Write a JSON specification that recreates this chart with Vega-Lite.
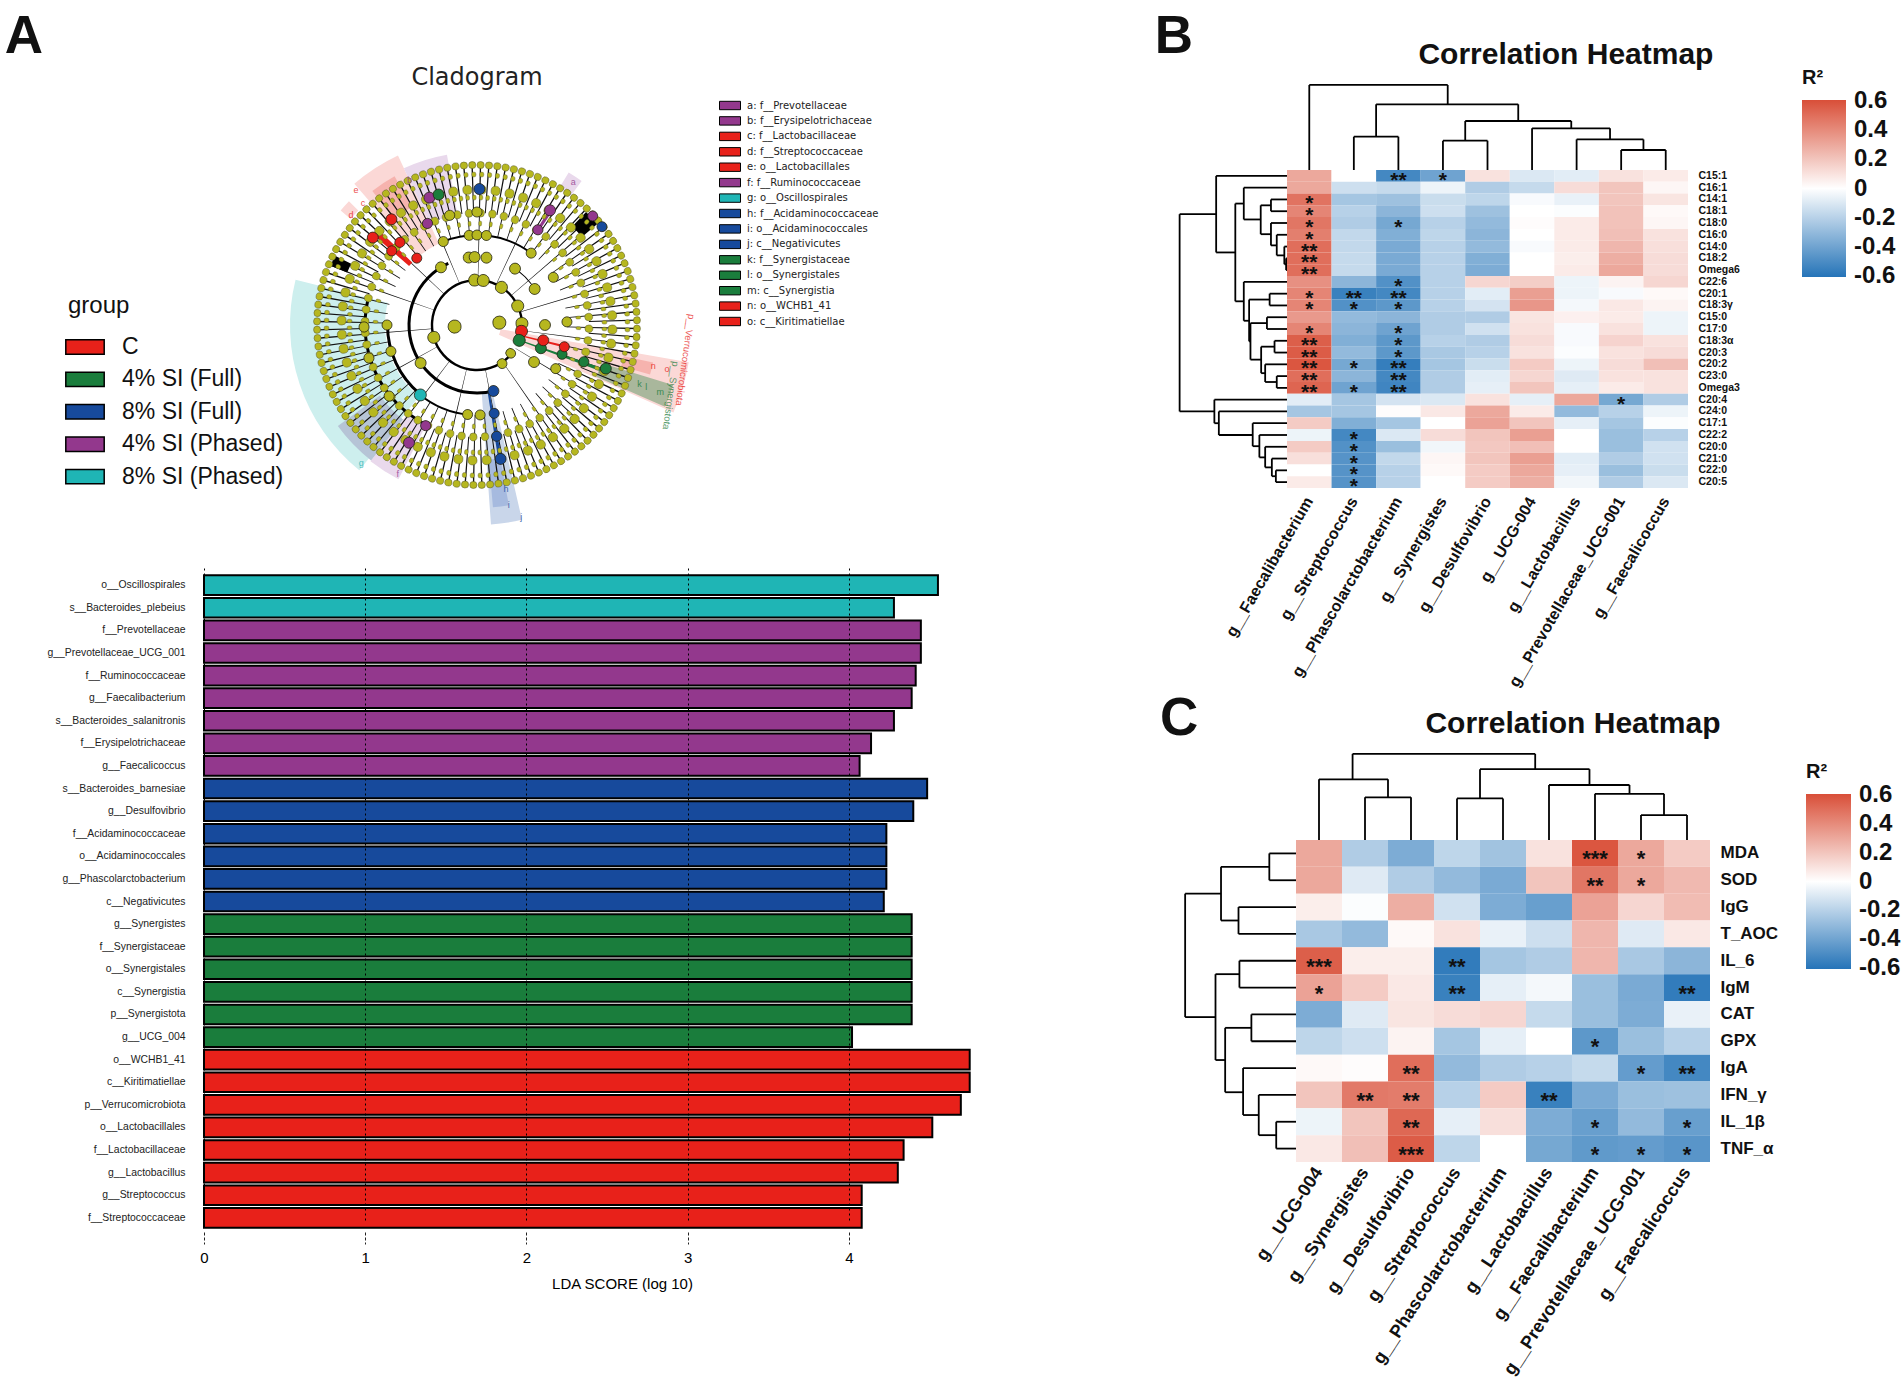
{"$schema":"https://vega.github.io/schema/vega-lite/v6.json","padding":0,"background":"white","autosize":{"type":"pad"},"config":{"view":{"stroke":null},"font":"Liberation Sans","axis":{"labelLimit":500}},"spacing":0,"bounds":"full","resolve":{"scale":{"color":"independent"},"legend":{"color":"independent"}},
"datasets":{
"spk":[{"t":0,"s":1,"e":1.5,"v":2.6,"w":3.8},{"t":3,"s":4,"e":4.5,"v":5.6},{"t":6,"s":7,"e":7.5,"v":8.6,"w":9.8},{"t":9,"s":10,"e":10.5,"v":11.6},{"t":12,"s":13,"e":13.5,"v":14.6,"w":15.8},{"t":15,"s":16,"e":16.5,"v":17.6},{"t":18,"s":19,"e":19.5,"v":20.6,"w":21.8},{"t":21,"s":22,"e":22.5,"v":23.6},{"t":24,"s":25,"e":25.5,"v":26.6,"w":27.8},{"t":27,"s":28,"e":28.5,"v":29.6},{"t":30,"s":31,"e":31.5,"v":32.6,"w":33.8},{"t":33,"s":34,"e":34.5,"v":35.6},{"t":36,"s":37,"e":37.5,"v":38.6,"w":39.8},{"t":39,"s":40,"e":40.5,"v":41.6},{"t":42,"s":43,"e":43.5,"v":44.6,"w":45.8},{"t":45,"s":46,"e":46.5,"v":47.6},{"t":48,"s":49,"e":49.5,"v":50.6,"w":51.8},{"t":51,"s":52,"e":52.5,"v":53.6},{"t":54,"s":55,"e":55.5,"v":56.6,"w":57.8},{"t":57,"s":58,"e":58.5,"v":59.6},{"t":60,"s":61,"e":61.5,"v":62.6,"w":63.8},{"t":63,"s":64,"e":64.5,"v":65.6},{"t":66,"s":67,"e":67.5,"v":68.6,"w":69.8},{"t":69,"s":70,"e":70.5,"v":71.6},{"t":72,"s":73,"e":73.5,"v":74.6,"w":75.8},{"t":75,"s":76,"e":76.5,"v":77.6},{"t":78,"s":79,"e":79.5,"v":80.6,"w":81.8},{"t":81,"s":82,"e":82.5,"v":83.6},{"t":84,"s":85,"e":85.5,"v":86.6,"w":87.8},{"t":87,"s":88,"e":88.5,"v":89.6},{"t":90,"s":91,"e":91.5,"v":92.6,"w":93.8},{"t":93,"s":94,"e":94.5,"v":95.6},{"t":96,"s":97,"e":97.5,"v":98.6,"w":99.8},{"t":99,"s":100,"e":100.5,"v":101.6},{"t":102,"s":103,"e":103.5,"v":104.6,"w":105.8},{"t":105,"s":106,"e":106.5,"v":107.6},{"t":108,"s":109,"e":109.5,"v":110.6,"w":111.8},{"t":111,"s":112,"e":112.5,"v":113.6},{"t":114,"s":115,"e":115.5,"v":116.6,"w":117.8},{"t":117,"s":118,"e":118.5,"v":119.6},{"t":120,"s":121,"e":121.5,"v":122.6,"w":123.8},{"t":123,"s":124,"e":124.5,"v":125.6},{"t":126,"s":127,"e":127.5,"v":128.6,"w":129.8},{"t":129,"s":130,"e":130.5,"v":131.6},{"t":132,"s":133,"e":133.5,"v":134.6,"w":135.8},{"t":135,"s":136,"e":136.5,"v":137.6},{"t":138,"s":139,"e":139.5,"v":140.6,"w":141.8},{"t":141,"s":142,"e":142.5,"v":143.6},{"t":144,"s":145,"e":145.5,"v":146.6,"w":147.8},{"t":147,"s":148,"e":148.5,"v":149.6},{"t":150,"s":151,"e":151.5,"v":152.6,"w":153.8},{"t":153,"s":154,"e":154.5,"v":155.6},{"t":156,"s":157,"e":157.5,"v":158.6,"w":159.8},{"t":159,"s":160,"e":160.5,"v":161.6},{"t":162,"s":163,"e":163.5,"v":164.6,"w":165.8},{"t":165,"s":166,"e":166.5,"v":167.6},{"t":168,"s":169,"e":169.5,"v":170.6,"w":171.8},{"t":171,"s":172,"e":172.5,"v":173.6},{"t":174,"s":175,"e":175.5,"v":176.6,"w":177.8},{"t":177,"s":178,"e":178.5,"v":179.6},{"t":180,"s":181,"e":181.5,"v":182.6,"w":183.8},{"t":183,"s":184,"e":184.5,"v":185.6},{"t":186,"s":187,"e":187.5,"v":188.6,"w":189.8},{"t":189,"s":190,"e":190.5,"v":191.6},{"t":192,"s":193,"e":193.5,"v":194.6,"w":195.8},{"t":195,"s":196,"e":196.5,"v":197.6},{"t":198,"s":199,"e":199.5,"v":200.6,"w":201.8},{"t":201,"s":202,"e":202.5,"v":203.6},{"t":204,"s":205,"e":205.5,"v":206.6,"w":207.8},{"t":207,"s":208,"e":208.5,"v":209.6},{"t":210,"s":211,"e":211.5,"v":212.6,"w":213.8},{"t":213,"s":214,"e":214.5,"v":215.6},{"t":216,"s":217,"e":217.5,"v":218.6,"w":219.8},{"t":219,"s":220,"e":220.5,"v":221.6},{"t":222,"s":223,"e":223.5,"v":224.6,"w":225.8},{"t":225,"s":226,"e":226.5,"v":227.6},{"t":228,"s":229,"e":229.5,"v":230.6,"w":231.8},{"t":231,"s":232,"e":232.5,"v":233.6},{"t":234,"s":235,"e":235.5,"v":236.6,"w":237.8},{"t":237,"s":238,"e":238.5,"v":239.6},{"t":240,"s":241,"e":241.5,"v":242.6,"w":243.8},{"t":243,"s":244,"e":244.5,"v":245.6},{"t":246,"s":247,"e":247.5,"v":248.6,"w":249.8},{"t":249,"s":250,"e":250.5,"v":251.6},{"t":252,"s":253,"e":253.5,"v":254.6,"w":255.8},{"t":255,"s":256,"e":256.5,"v":257.6},{"t":258,"s":259,"e":259.5,"v":260.6,"w":261.8},{"t":261,"s":262,"e":262.5,"v":263.6},{"t":264,"s":265,"e":265.5,"v":266.6,"w":267.8},{"t":267,"s":268,"e":268.5,"v":269.6},{"t":270,"s":271,"e":271.5,"v":272.6,"w":273.8},{"t":273,"s":274,"e":274.5,"v":275.6},{"t":276,"s":277,"e":277.5,"v":278.6,"w":279.8},{"t":279,"s":280,"e":280.5,"v":281.6},{"t":282,"s":283,"e":283.5,"v":284.6,"w":285.8},{"t":285,"s":286,"e":286.5,"v":287.6},{"t":288,"s":289,"e":289.5,"v":290.6,"w":291.8},{"t":291,"s":292,"e":292.5,"v":293.6},{"t":294,"s":295,"e":295.5,"v":296.6,"w":297.8},{"t":297,"s":298,"e":298.5,"v":299.6},{"t":300,"s":301,"e":301.5,"v":302.6,"w":303.8},{"t":303,"s":304,"e":304.5,"v":305.6},{"t":306,"s":307,"e":307.5,"v":308.6,"w":309.8},{"t":309,"s":310,"e":310.5,"v":311.6},{"t":312,"s":313,"e":313.5,"v":314.6,"w":315.8},{"t":315,"s":316,"e":316.5,"v":317.6},{"t":318,"s":319,"e":319.5,"v":320.6,"w":321.8},{"t":321,"s":322,"e":322.5,"v":323.6},{"t":324,"s":325,"e":325.5,"v":326.6,"w":327.8},{"t":327,"s":328,"e":328.5,"v":329.6},{"t":330,"s":331,"e":331.5,"v":332.6,"w":333.8},{"t":333,"s":334,"e":334.5,"v":335.6},{"t":336,"s":337,"e":337.5,"v":338.6,"w":339.8},{"t":339,"s":340,"e":340.5,"v":341.6},{"t":342,"s":343,"e":343.5,"v":344.6,"w":345.8},{"t":345,"s":346,"e":346.5,"v":347.6},{"t":348,"s":349,"e":349.5,"v":350.6,"w":351.8},{"t":351,"s":352,"e":352.5,"v":353.6},{"t":354,"s":355,"e":355.5,"v":356.6,"w":357.8},{"t":357,"s":358,"e":358.5,"v":359.6}],
"sec":[{"t":219,"u":284,"r":92,"q":187,"k":"T1"},{"t":207,"u":218,"r":112,"q":173,"k":"P1"},{"t":218,"u":234,"r":120,"q":172,"k":"S1"},{"t":167,"u":176,"r":68,"q":200,"k":"U1"},{"t":170,"u":175,"r":135,"q":183,"k":"U2"},{"t":100,"u":114,"r":24,"q":215,"k":"R1"},{"t":107,"u":113.5,"r":130,"q":205,"k":"O1"},{"t":102,"u":106,"r":150,"q":180,"k":"R2"},{"t":31,"u":36,"r":160,"q":178,"k":"P1"},{"t":319,"u":335,"r":90,"q":187,"k":"R1"},{"t":322,"u":331,"r":135,"q":170,"k":"R2"},{"t":335,"u":350,"r":112,"q":173,"k":"P1"},{"t":310,"u":314,"r":165,"q":178,"k":"R1"}],
"rings":[{"t":130,"u":445,"r":43.8,"q":46.2,"k":"b"},{"t":165,"u":335,"r":66.5,"q":69.5,"k":"b"},{"t":30,"u":60,"r":67.5,"q":68.5,"k":"b"},{"t":220,"u":270,"r":88,"q":91,"k":"b"},{"t":185,"u":220,"r":89,"q":91,"k":"b"},{"t":338,"u":397,"r":89,"q":91,"k":"b"},{"t":207,"u":283,"r":110.5,"q":113.5,"k":"b"},{"t":44,"u":50,"r":137,"q":157,"k":"b"},{"t":292,"u":296,"r":140,"q":158,"k":"b"},{"t":103,"u":104.5,"r":45,"q":91,"k":"r"},{"t":109,"u":110.5,"r":45,"q":137,"k":"g"},{"t":169.5,"u":171,"r":68,"q":136,"k":"u"},{"t":311,"u":314,"r":90,"q":136,"k":"r"},{"t":32,"u":33.5,"r":112,"q":136,"k":"p"}],
"nodes":[{"t":249,"u":283,"r":16,"q":29,"k":"o"},{"t":67,"u":101,"r":16,"q":29,"k":"o"},{"t":246.4,"u":261.6,"r":39,"q":51,"k":"o"},{"t":349.4,"u":364.6,"r":39,"q":51,"k":"o"},{"t":0.4,"u":15.6,"r":39,"q":51,"k":"o"},{"t":25.4,"u":40.6,"r":39,"q":51,"k":"o"},{"t":57.4,"u":72.6,"r":39,"q":51,"k":"o"},{"t":80.4,"u":95.6,"r":39,"q":51,"k":"o"},{"t":124,"u":136,"r":39,"q":49,"k":"o"},{"t":141,"u":153,"r":41,"q":51,"k":"o"},{"t":231.4,"u":240.6,"r":62.5,"q":73.5,"k":"o"},{"t":323.4,"u":332.6,"r":62.5,"q":73.5,"k":"o"},{"t":29.4,"u":38.6,"r":62.5,"q":73.5,"k":"o"},{"t":53.4,"u":62.6,"r":62.5,"q":73.5,"k":"o"},{"t":85.4,"u":94.6,"r":62.5,"q":73.5,"k":"o"},{"t":118.4,"u":127.6,"r":62.5,"q":73.5,"k":"o"},{"t":348.4,"u":357.6,"r":62.5,"q":73.5,"k":"o"},{"t":353.4,"u":362.6,"r":62.5,"q":73.5,"k":"o"},{"t":3.4,"u":12.6,"r":62.5,"q":73.5,"k":"o"},{"t":266.8,"u":273.2,"r":85,"q":95,"k":"o"},{"t":249.8,"u":256.2,"r":85,"q":95,"k":"o"},{"t":334.8,"u":341.2,"r":85,"q":95,"k":"o"},{"t":33.8,"u":40.2,"r":85,"q":95,"k":"o"},{"t":351.8,"u":358.2,"r":85,"q":95,"k":"o"},{"t":356.8,"u":363.2,"r":85,"q":95,"k":"o"},{"t":2.8,"u":9.2,"r":85,"q":95,"k":"o"},{"t":54.8,"u":61.2,"r":85,"q":95,"k":"o"},{"t":84.8,"u":91.2,"r":85,"q":95,"k":"o"},{"t":115.8,"u":122.2,"r":85,"q":95,"k":"o"},{"t":182.8,"u":189.2,"r":85,"q":95,"k":"o"},{"t":174.8,"u":181.2,"r":85,"q":95,"k":"o"},{"t":266.4,"u":271.6,"r":108,"q":118,"k":"o"},{"t":250.4,"u":255.6,"r":108,"q":118,"k":"o"},{"t":228.4,"u":233.6,"r":108,"q":118,"k":"o"},{"t":343.4,"u":348.6,"r":108,"q":118,"k":"o"},{"t":357.4,"u":362.6,"r":108,"q":118,"k":"o"},{"t":90.4,"u":105.6,"r":39,"q":51,"k":"r"},{"t":102.4,"u":117.6,"r":39,"q":51,"k":"g"},{"t":161.4,"u":170.6,"r":62.5,"q":73.5,"k":"u"},{"t":105.4,"u":114.6,"r":62.5,"q":73.5,"k":"g"},{"t":98.4,"u":107.6,"r":62.5,"q":73.5,"k":"r"},{"t":215.2,"u":222.8,"r":84,"q":96,"k":"t"},{"t":314.8,"u":321.2,"r":85,"q":95,"k":"r"},{"t":105.8,"u":112.2,"r":85,"q":95,"k":"g"},{"t":100.8,"u":107.2,"r":85,"q":95,"k":"r"},{"t":165.8,"u":172.2,"r":85,"q":95,"k":"u"},{"t":204.4,"u":209.6,"r":108,"q":118,"k":"p"},{"t":314.4,"u":319.6,"r":108,"q":118,"k":"r"},{"t":308.4,"u":313.6,"r":108,"q":118,"k":"r"},{"t":331.4,"u":336.6,"r":108,"q":118,"k":"p"},{"t":167.4,"u":172.6,"r":108,"q":118,"k":"u"},{"t":30,"u":35.2,"r":108,"q":118,"k":"p"},{"t":106.4,"u":111.6,"r":108,"q":118,"k":"g"},{"t":307.7,"u":312.3,"r":130.5,"q":141.5,"k":"r"},{"t":318.7,"u":323.3,"r":130.5,"q":141.5,"k":"r"},{"t":337.2,"u":341.8,"r":130.5,"q":141.5,"k":"p"},{"t":341.3,"u":345.9,"r":130.5,"q":141.5,"k":"g"},{"t":358.7,"u":363.3,"r":130.5,"q":141.5,"k":"u"},{"t":30.2,"u":34.8,"r":130.5,"q":141.5,"k":"p"},{"t":106.4,"u":111,"r":130.5,"q":141.5,"k":"g"},{"t":167.7,"u":172.3,"r":130.5,"q":141.5,"k":"u"},{"t":207.7,"u":212.3,"r":130.5,"q":141.5,"k":"p"},{"t":44.9,"u":48.5,"r":154,"q":164,"k":"p"},{"t":50,"u":53.6,"r":154,"q":164,"k":"u"}],
"letters":[{"t":34,"r":172,"label":"a","k":"p"},{"t":335,"r":160,"label":"b","k":"p"},{"t":317,"r":167,"label":"c","k":"r"},{"t":311,"r":167,"label":"d","k":"r"},{"t":318,"r":181,"label":"e","k":"r"},{"t":208,"r":169,"label":"f","k":"p"},{"t":220,"r":180,"label":"g","k":"t"},{"t":170,"r":167,"label":"h","k":"u"},{"t":170,"r":183,"label":"i","k":"u"},{"t":167,"r":197,"label":"j","k":"u"},{"t":110,"r":173,"label":"k","k":"g"},{"t":110,"r":180,"label":"l","k":"g"},{"t":110,"r":195,"label":"m","k":"g"},{"t":103,"r":181,"label":"n","k":"r"},{"t":103,"r":195,"label":"o","k":"r"}],
"phyla":[{"t":99.5,"r":211,"label":"p__Verrucomicrobiota","k":"r"},{"t":110,"r":206,"label":"p__Synergistota","k":"g"}],
"cladlegend":[{"y":219.5,"label":"a: f__Prevotellaceae","k":"p"},{"y":204.1,"label":"b: f__Erysipelotrichaceae","k":"p"},{"y":188.6,"label":"c: f__Lactobacillaceae","k":"r"},{"y":173.2,"label":"d: f__Streptococcaceae","k":"r"},{"y":157.8,"label":"e: o__Lactobacillales","k":"r"},{"y":142.4,"label":"f: f__Ruminococcaceae","k":"p"},{"y":126.9,"label":"g: o__Oscillospirales","k":"t"},{"y":111.5,"label":"h: f__Acidaminococcaceae","k":"u"},{"y":96.1,"label":"i: o__Acidaminococcales","k":"u"},{"y":80.6,"label":"j: c__Negativicutes","k":"u"},{"y":65.2,"label":"k: f__Synergistaceae","k":"g"},{"y":49.8,"label":"l: o__Synergistales","k":"g"},{"y":34.3,"label":"m: c__Synergistia","k":"g"},{"y":18.9,"label":"n: o__WCHB1_41","k":"r"},{"y":3.5,"label":"o: c__Kiritimatiellae","k":"r"}],
"bars":[{"n":"o__Oscillospirales","g":"8% SI (Phased)","v":4.553},{"n":"s__Bacteroides_plebeius","g":"8% SI (Phased)","v":4.28},{"n":"f__Prevotellaceae","g":"4% SI (Phased)","v":4.447},{"n":"g__Prevotellaceae_UCG_001","g":"4% SI (Phased)","v":4.447},{"n":"f__Ruminococcaceae","g":"4% SI (Phased)","v":4.415},{"n":"g__Faecalibacterium","g":"4% SI (Phased)","v":4.39},{"n":"s__Bacteroides_salanitronis","g":"4% SI (Phased)","v":4.28},{"n":"f__Erysipelotrichaceae","g":"4% SI (Phased)","v":4.138},{"n":"g__Faecalicoccus","g":"4% SI (Phased)","v":4.067},{"n":"s__Bacteroides_barnesiae","g":"8% SI (Full)","v":4.486},{"n":"g__Desulfovibrio","g":"8% SI (Full)","v":4.4},{"n":"f__Acidaminococcaceae","g":"8% SI (Full)","v":4.233},{"n":"o__Acidaminococcales","g":"8% SI (Full)","v":4.233},{"n":"g__Phascolarctobacterium","g":"8% SI (Full)","v":4.233},{"n":"c__Negativicutes","g":"8% SI (Full)","v":4.217},{"n":"g__Synergistes","g":"4% SI (Full)","v":4.39},{"n":"f__Synergistaceae","g":"4% SI (Full)","v":4.39},{"n":"o__Synergistales","g":"4% SI (Full)","v":4.39},{"n":"c__Synergistia","g":"4% SI (Full)","v":4.39},{"n":"p__Synergistota","g":"4% SI (Full)","v":4.39},{"n":"g__UCG_004","g":"4% SI (Full)","v":4.02},{"n":"o__WCHB1_41","g":"C","v":4.75},{"n":"c__Kiritimatiellae","g":"C","v":4.75},{"n":"p__Verrucomicrobiota","g":"C","v":4.695},{"n":"o__Lactobacillales","g":"C","v":4.518},{"n":"f__Lactobacillaceae","g":"C","v":4.34},{"n":"g__Lactobacillus","g":"C","v":4.304},{"n":"g__Streptococcus","g":"C","v":4.08},{"n":"f__Streptococcaceae","g":"C","v":4.08}],
"bL":[{"h":-0.02,"a":7.5,"b":8.5,"c":0,"d":0},{"h":-0.06,"a":6.5,"b":8,"c":0,"d":-0.02},{"h":-0.23,"a":5.5,"b":7.25,"c":0,"d":-0.06},{"h":-0.36,"a":4.5,"b":6.4,"c":0,"d":-0.23},{"h":-0.36,"a":2.5,"b":3.5,"c":0,"d":0},{"h":-0.59,"a":3,"b":5.45,"c":-0.36,"d":-0.36},{"h":-0.97,"a":1.5,"b":4.2,"c":0,"d":-0.59},{"h":-0.23,"a":17.5,"b":18.5,"c":0,"d":0},{"h":-0.49,"a":16.5,"b":18,"c":0,"d":-0.23},{"h":-0.28,"a":14.5,"b":15.5,"c":0,"d":0},{"h":-0.58,"a":15,"b":17.25,"c":-0.28,"d":-0.49},{"h":-0.45,"a":12.5,"b":13.5,"c":0,"d":0},{"h":-0.82,"a":13,"b":16.1,"c":-0.45,"d":-0.58},{"h":-0.39,"a":10.5,"b":11.5,"c":0,"d":0},{"h":-0.85,"a":11,"b":14.55,"c":-0.39,"d":-0.82},{"h":-0.97,"a":9.5,"b":12.8,"c":0,"d":-0.85},{"h":-1.16,"a":2.85,"b":11.15,"c":-0.97,"d":-0.97},{"h":-1.59,"a":0.5,"b":7,"c":0,"d":-1.16},{"h":-0.25,"a":25.5,"b":26.5,"c":0,"d":0},{"h":-0.34,"a":24.5,"b":26,"c":0,"d":-0.25},{"h":-0.49,"a":23.5,"b":25.25,"c":0,"d":-0.34},{"h":-0.62,"a":22.5,"b":24.4,"c":0,"d":-0.49},{"h":-0.77,"a":21.5,"b":23.45,"c":0,"d":-0.62},{"h":-1.53,"a":20.5,"b":22.5,"c":0,"d":-0.77},{"h":-1.63,"a":19.5,"b":21.5,"c":0,"d":-1.53},{"h":-2.41,"a":3.75,"b":20.5,"c":-1.59,"d":-1.63}],
"bT":[{"h":-7.22,"a":0.5,"b":3.607,"c":0,"d":-5.58},{"h":-5.58,"a":2,"b":5.19,"c":-2.83,"d":-4.16},{"h":-2.83,"a":1.5,"b":2.5,"c":0,"d":0},{"h":-4.16,"a":4,"b":6.38,"c":-2.49,"d":-3.54},{"h":-2.49,"a":3.5,"b":4.5,"c":0,"d":0},{"h":-3.54,"a":5.5,"b":7.25,"c":0,"d":-2.6},{"h":-2.6,"a":6.5,"b":8,"c":0,"d":-1.7},{"h":-1.7,"a":7.5,"b":8.5,"c":0,"d":0}],
"cL":[{"h":-0.43,"a":10.5,"b":11.5,"c":0,"d":0},{"h":-0.81,"a":9.5,"b":11,"c":0,"d":-0.43},{"h":-1.15,"a":8.5,"b":10.25,"c":0,"d":-0.81},{"h":-0.97,"a":6.5,"b":7.5,"c":0,"d":0},{"h":-1.54,"a":7,"b":9.4,"c":-0.97,"d":-1.15},{"h":-1.23,"a":4.5,"b":5.5,"c":0,"d":0},{"h":-1.75,"a":5,"b":8.2,"c":-1.23,"d":-1.54},{"h":-0.58,"a":0.5,"b":1.5,"c":0,"d":0},{"h":-1.25,"a":2.5,"b":3.5,"c":0,"d":0},{"h":-1.63,"a":1,"b":3,"c":-0.58,"d":-1.25},{"h":-2.41,"a":2,"b":6.6,"c":-1.63,"d":-1.75}],
"cT":[{"h":-3.21,"a":1.23,"b":5.2,"c":-2.26,"d":-2.64},{"h":-2.26,"a":0.5,"b":2,"c":0,"d":-1.59},{"h":-1.59,"a":1.5,"b":2.5,"c":0,"d":0},{"h":-2.64,"a":4,"b":6.38,"c":-1.55,"d":-2.05},{"h":-1.55,"a":3.5,"b":4.5,"c":0,"d":0},{"h":-2.05,"a":5.5,"b":7.25,"c":0,"d":-1.72},{"h":-1.72,"a":6.5,"b":8,"c":0,"d":-0.93},{"h":-0.93,"a":7.5,"b":8.5,"c":0,"d":0}],
"heatB":[
{"x":"g__Faecalibacterium","y":"C15:1","v":0.3},{"x":"g__Streptococcus","y":"C15:1","v":0},{"x":"g__Phascolarctobacterium","y":"C15:1","v":-0.52,"s":"**"},{"x":"g__Synergistes","y":"C15:1","v":-0.4,"s":"*"},{"x":"g__Desulfovibrio","y":"C15:1","v":0.1},{"x":"g__UCG-004","y":"C15:1","v":-0.1},{"x":"g__Lactobacillus","y":"C15:1","v":-0.08},{"x":"g__Prevotellaceae_UCG-001","y":"C15:1","v":0.1},{"x":"g__Faecalicoccus","y":"C15:1","v":0.07},
{"x":"g__Faecalibacterium","y":"C16:1","v":0.3},{"x":"g__Streptococcus","y":"C16:1","v":-0.14},{"x":"g__Phascolarctobacterium","y":"C16:1","v":-0.16},{"x":"g__Synergistes","y":"C16:1","v":-0.05},{"x":"g__Desulfovibrio","y":"C16:1","v":-0.22},{"x":"g__UCG-004","y":"C16:1","v":-0.16},{"x":"g__Lactobacillus","y":"C16:1","v":0.12},{"x":"g__Prevotellaceae_UCG-001","y":"C16:1","v":0.2},{"x":"g__Faecalicoccus","y":"C16:1","v":0.03},
{"x":"g__Faecalibacterium","y":"C14:1","v":0.48,"s":"*"},{"x":"g__Streptococcus","y":"C14:1","v":-0.25},{"x":"g__Phascolarctobacterium","y":"C14:1","v":-0.27},{"x":"g__Synergistes","y":"C14:1","v":-0.15},{"x":"g__Desulfovibrio","y":"C14:1","v":-0.18},{"x":"g__UCG-004","y":"C14:1","v":-0.02},{"x":"g__Lactobacillus","y":"C14:1","v":-0.06},{"x":"g__Prevotellaceae_UCG-001","y":"C14:1","v":0.2},{"x":"g__Faecalicoccus","y":"C14:1","v":0.09},
{"x":"g__Faecalibacterium","y":"C18:1","v":0.42,"s":"*"},{"x":"g__Streptococcus","y":"C18:1","v":-0.2},{"x":"g__Phascolarctobacterium","y":"C18:1","v":-0.32},{"x":"g__Synergistes","y":"C18:1","v":-0.14},{"x":"g__Desulfovibrio","y":"C18:1","v":-0.27},{"x":"g__UCG-004","y":"C18:1","v":0},{"x":"g__Lactobacillus","y":"C18:1","v":-0.01},{"x":"g__Prevotellaceae_UCG-001","y":"C18:1","v":0.21},{"x":"g__Faecalicoccus","y":"C18:1","v":0.02},
{"x":"g__Faecalibacterium","y":"C18:0","v":0.47,"s":"*"},{"x":"g__Streptococcus","y":"C18:0","v":-0.22},{"x":"g__Phascolarctobacterium","y":"C18:0","v":-0.38,"s":"*"},{"x":"g__Synergistes","y":"C18:0","v":-0.2},{"x":"g__Desulfovibrio","y":"C18:0","v":-0.3},{"x":"g__UCG-004","y":"C18:0","v":0.01},{"x":"g__Lactobacillus","y":"C18:0","v":0.07},{"x":"g__Prevotellaceae_UCG-001","y":"C18:0","v":0.21},{"x":"g__Faecalicoccus","y":"C18:0","v":0.03},
{"x":"g__Faecalibacterium","y":"C16:0","v":0.44,"s":"*"},{"x":"g__Streptococcus","y":"C16:0","v":-0.17},{"x":"g__Phascolarctobacterium","y":"C16:0","v":-0.35},{"x":"g__Synergistes","y":"C16:0","v":-0.18},{"x":"g__Desulfovibrio","y":"C16:0","v":-0.32},{"x":"g__UCG-004","y":"C16:0","v":0},{"x":"g__Lactobacillus","y":"C16:0","v":0.07},{"x":"g__Prevotellaceae_UCG-001","y":"C16:0","v":0.22},{"x":"g__Faecalicoccus","y":"C16:0","v":0.1},
{"x":"g__Faecalibacterium","y":"C14:0","v":0.5,"s":"**"},{"x":"g__Streptococcus","y":"C14:0","v":-0.17},{"x":"g__Phascolarctobacterium","y":"C14:0","v":-0.37},{"x":"g__Synergistes","y":"C14:0","v":-0.2},{"x":"g__Desulfovibrio","y":"C14:0","v":-0.3},{"x":"g__UCG-004","y":"C14:0","v":-0.02},{"x":"g__Lactobacillus","y":"C14:0","v":0.07},{"x":"g__Prevotellaceae_UCG-001","y":"C14:0","v":0.25},{"x":"g__Faecalicoccus","y":"C14:0","v":0.11},
{"x":"g__Faecalibacterium","y":"C18:2","v":0.5,"s":"**"},{"x":"g__Streptococcus","y":"C18:2","v":-0.16},{"x":"g__Phascolarctobacterium","y":"C18:2","v":-0.37},{"x":"g__Synergistes","y":"C18:2","v":-0.2},{"x":"g__Desulfovibrio","y":"C18:2","v":-0.35},{"x":"g__UCG-004","y":"C18:2","v":0},{"x":"g__Lactobacillus","y":"C18:2","v":0.06},{"x":"g__Prevotellaceae_UCG-001","y":"C18:2","v":0.28},{"x":"g__Faecalicoccus","y":"C18:2","v":0.12},
{"x":"g__Faecalibacterium","y":"Omega6","v":0.5,"s":"**"},{"x":"g__Streptococcus","y":"Omega6","v":-0.16},{"x":"g__Phascolarctobacterium","y":"Omega6","v":-0.37},{"x":"g__Synergistes","y":"Omega6","v":-0.2},{"x":"g__Desulfovibrio","y":"Omega6","v":-0.36},{"x":"g__UCG-004","y":"Omega6","v":0},{"x":"g__Lactobacillus","y":"Omega6","v":0.07},{"x":"g__Prevotellaceae_UCG-001","y":"Omega6","v":0.3},{"x":"g__Faecalicoccus","y":"Omega6","v":0.12},
{"x":"g__Faecalibacterium","y":"C22:6","v":0.38},{"x":"g__Streptococcus","y":"C22:6","v":-0.32},{"x":"g__Phascolarctobacterium","y":"C22:6","v":-0.48,"s":"*"},{"x":"g__Synergistes","y":"C22:6","v":-0.2},{"x":"g__Desulfovibrio","y":"C22:6","v":0.14},{"x":"g__UCG-004","y":"C22:6","v":0.17},{"x":"g__Lactobacillus","y":"C22:6","v":-0.05},{"x":"g__Prevotellaceae_UCG-001","y":"C22:6","v":0.04},{"x":"g__Faecalicoccus","y":"C22:6","v":0.14},
{"x":"g__Faecalibacterium","y":"C20:1","v":0.42,"s":"*"},{"x":"g__Streptococcus","y":"C20:1","v":-0.55,"s":"**"},{"x":"g__Phascolarctobacterium","y":"C20:1","v":-0.52,"s":"**"},{"x":"g__Synergistes","y":"C20:1","v":-0.2},{"x":"g__Desulfovibrio","y":"C20:1","v":-0.08},{"x":"g__UCG-004","y":"C20:1","v":0.33},{"x":"g__Lactobacillus","y":"C20:1","v":-0.05},{"x":"g__Prevotellaceae_UCG-001","y":"C20:1","v":-0.02},{"x":"g__Faecalicoccus","y":"C20:1","v":0.02},
{"x":"g__Faecalibacterium","y":"C18:3γ","v":0.42,"s":"*"},{"x":"g__Streptococcus","y":"C18:3γ","v":-0.48,"s":"*"},{"x":"g__Phascolarctobacterium","y":"C18:3γ","v":-0.45,"s":"*"},{"x":"g__Synergistes","y":"C18:3γ","v":-0.2},{"x":"g__Desulfovibrio","y":"C18:3γ","v":-0.12},{"x":"g__UCG-004","y":"C18:3γ","v":0.36},{"x":"g__Lactobacillus","y":"C18:3γ","v":-0.03},{"x":"g__Prevotellaceae_UCG-001","y":"C18:3γ","v":0.08},{"x":"g__Faecalicoccus","y":"C18:3γ","v":0.04},
{"x":"g__Faecalibacterium","y":"C15:0","v":0.35},{"x":"g__Streptococcus","y":"C15:0","v":-0.3},{"x":"g__Phascolarctobacterium","y":"C15:0","v":-0.32},{"x":"g__Synergistes","y":"C15:0","v":-0.22},{"x":"g__Desulfovibrio","y":"C15:0","v":-0.22},{"x":"g__UCG-004","y":"C15:0","v":0.09},{"x":"g__Lactobacillus","y":"C15:0","v":0.05},{"x":"g__Prevotellaceae_UCG-001","y":"C15:0","v":0.07},{"x":"g__Faecalicoccus","y":"C15:0","v":-0.05},
{"x":"g__Faecalibacterium","y":"C17:0","v":0.42,"s":"*"},{"x":"g__Streptococcus","y":"C17:0","v":-0.32},{"x":"g__Phascolarctobacterium","y":"C17:0","v":-0.4,"s":"*"},{"x":"g__Synergistes","y":"C17:0","v":-0.22},{"x":"g__Desulfovibrio","y":"C17:0","v":-0.13},{"x":"g__UCG-004","y":"C17:0","v":0.1},{"x":"g__Lactobacillus","y":"C17:0","v":-0.02},{"x":"g__Prevotellaceae_UCG-001","y":"C17:0","v":0.1},{"x":"g__Faecalicoccus","y":"C17:0","v":-0.05},
{"x":"g__Faecalibacterium","y":"C18:3α","v":0.55,"s":"**"},{"x":"g__Streptococcus","y":"C18:3α","v":-0.35},{"x":"g__Phascolarctobacterium","y":"C18:3α","v":-0.45,"s":"*"},{"x":"g__Synergistes","y":"C18:3α","v":-0.2},{"x":"g__Desulfovibrio","y":"C18:3α","v":-0.22},{"x":"g__UCG-004","y":"C18:3α","v":0.12},{"x":"g__Lactobacillus","y":"C18:3α","v":-0.02},{"x":"g__Prevotellaceae_UCG-001","y":"C18:3α","v":0.15},{"x":"g__Faecalicoccus","y":"C18:3α","v":0.1},
{"x":"g__Faecalibacterium","y":"C20:3","v":0.56,"s":"**"},{"x":"g__Streptococcus","y":"C20:3","v":-0.3},{"x":"g__Phascolarctobacterium","y":"C20:3","v":-0.45,"s":"*"},{"x":"g__Synergistes","y":"C20:3","v":-0.24},{"x":"g__Desulfovibrio","y":"C20:3","v":-0.2},{"x":"g__UCG-004","y":"C20:3","v":0.1},{"x":"g__Lactobacillus","y":"C20:3","v":-0.01},{"x":"g__Prevotellaceae_UCG-001","y":"C20:3","v":0.1},{"x":"g__Faecalicoccus","y":"C20:3","v":0.12},
{"x":"g__Faecalibacterium","y":"C20:2","v":0.58,"s":"**"},{"x":"g__Streptococcus","y":"C20:2","v":-0.38,"s":"*"},{"x":"g__Phascolarctobacterium","y":"C20:2","v":-0.56,"s":"**"},{"x":"g__Synergistes","y":"C20:2","v":-0.25},{"x":"g__Desulfovibrio","y":"C20:2","v":-0.15},{"x":"g__UCG-004","y":"C20:2","v":0.18},{"x":"g__Lactobacillus","y":"C20:2","v":-0.05},{"x":"g__Prevotellaceae_UCG-001","y":"C20:2","v":0.12},{"x":"g__Faecalicoccus","y":"C20:2","v":0.22},
{"x":"g__Faecalibacterium","y":"C23:0","v":0.5,"s":"**"},{"x":"g__Streptococcus","y":"C23:0","v":-0.32},{"x":"g__Phascolarctobacterium","y":"C23:0","v":-0.52,"s":"**"},{"x":"g__Synergistes","y":"C23:0","v":-0.22},{"x":"g__Desulfovibrio","y":"C23:0","v":-0.08},{"x":"g__UCG-004","y":"C23:0","v":0.14},{"x":"g__Lactobacillus","y":"C23:0","v":-0.09},{"x":"g__Prevotellaceae_UCG-001","y":"C23:0","v":0.1},{"x":"g__Faecalicoccus","y":"C23:0","v":0.1},
{"x":"g__Faecalibacterium","y":"Omega3","v":0.53,"s":"**"},{"x":"g__Streptococcus","y":"Omega3","v":-0.4,"s":"*"},{"x":"g__Phascolarctobacterium","y":"Omega3","v":-0.53,"s":"**"},{"x":"g__Synergistes","y":"Omega3","v":-0.22},{"x":"g__Desulfovibrio","y":"Omega3","v":-0.07},{"x":"g__UCG-004","y":"Omega3","v":0.2},{"x":"g__Lactobacillus","y":"Omega3","v":-0.07},{"x":"g__Prevotellaceae_UCG-001","y":"Omega3","v":0.07},{"x":"g__Faecalicoccus","y":"Omega3","v":0.1},
{"x":"g__Faecalibacterium","y":"C20:4","v":-0.08},{"x":"g__Streptococcus","y":"C20:4","v":-0.25},{"x":"g__Phascolarctobacterium","y":"C20:4","v":-0.12},{"x":"g__Synergistes","y":"C20:4","v":-0.1},{"x":"g__Desulfovibrio","y":"C20:4","v":0.1},{"x":"g__UCG-004","y":"C20:4","v":-0.07},{"x":"g__Lactobacillus","y":"C20:4","v":0.3},{"x":"g__Prevotellaceae_UCG-001","y":"C20:4","v":-0.38,"s":"*"},{"x":"g__Faecalicoccus","y":"C20:4","v":-0.22},
{"x":"g__Faecalibacterium","y":"C24:0","v":-0.25},{"x":"g__Streptococcus","y":"C24:0","v":-0.25},{"x":"g__Phascolarctobacterium","y":"C24:0","v":0.01},{"x":"g__Synergistes","y":"C24:0","v":0.08},{"x":"g__Desulfovibrio","y":"C24:0","v":0.3},{"x":"g__UCG-004","y":"C24:0","v":0.07},{"x":"g__Lactobacillus","y":"C24:0","v":-0.3},{"x":"g__Prevotellaceae_UCG-001","y":"C24:0","v":-0.2},{"x":"g__Faecalicoccus","y":"C24:0","v":-0.05},
{"x":"g__Faecalibacterium","y":"C17:1","v":0.18},{"x":"g__Streptococcus","y":"C17:1","v":-0.35},{"x":"g__Phascolarctobacterium","y":"C17:1","v":-0.25},{"x":"g__Synergistes","y":"C17:1","v":0},{"x":"g__Desulfovibrio","y":"C17:1","v":0.32},{"x":"g__UCG-004","y":"C17:1","v":0.2},{"x":"g__Lactobacillus","y":"C17:1","v":-0.07},{"x":"g__Prevotellaceae_UCG-001","y":"C17:1","v":-0.25},{"x":"g__Faecalicoccus","y":"C17:1","v":-0.01},
{"x":"g__Faecalibacterium","y":"C22:2","v":-0.05},{"x":"g__Streptococcus","y":"C22:2","v":-0.52,"s":"*"},{"x":"g__Phascolarctobacterium","y":"C22:2","v":-0.1},{"x":"g__Synergistes","y":"C22:2","v":0.12},{"x":"g__Desulfovibrio","y":"C22:2","v":0.2},{"x":"g__UCG-004","y":"C22:2","v":0.33},{"x":"g__Lactobacillus","y":"C22:2","v":0},{"x":"g__Prevotellaceae_UCG-001","y":"C22:2","v":-0.28},{"x":"g__Faecalicoccus","y":"C22:2","v":-0.2},
{"x":"g__Faecalibacterium","y":"C20:0","v":0.18},{"x":"g__Streptococcus","y":"C20:0","v":-0.48,"s":"*"},{"x":"g__Phascolarctobacterium","y":"C20:0","v":-0.28},{"x":"g__Synergistes","y":"C20:0","v":-0.04},{"x":"g__Desulfovibrio","y":"C20:0","v":0.19},{"x":"g__UCG-004","y":"C20:0","v":0.22},{"x":"g__Lactobacillus","y":"C20:0","v":0},{"x":"g__Prevotellaceae_UCG-001","y":"C20:0","v":-0.28},{"x":"g__Faecalicoccus","y":"C20:0","v":-0.13},
{"x":"g__Faecalibacterium","y":"C21:0","v":0.11},{"x":"g__Streptococcus","y":"C21:0","v":-0.47,"s":"*"},{"x":"g__Phascolarctobacterium","y":"C21:0","v":-0.17},{"x":"g__Synergistes","y":"C21:0","v":0.03},{"x":"g__Desulfovibrio","y":"C21:0","v":0.2},{"x":"g__UCG-004","y":"C21:0","v":0.33},{"x":"g__Lactobacillus","y":"C21:0","v":-0.08},{"x":"g__Prevotellaceae_UCG-001","y":"C21:0","v":-0.22},{"x":"g__Faecalicoccus","y":"C21:0","v":-0.13},
{"x":"g__Faecalibacterium","y":"C22:0","v":0},{"x":"g__Streptococcus","y":"C22:0","v":-0.47,"s":"*"},{"x":"g__Phascolarctobacterium","y":"C22:0","v":-0.2},{"x":"g__Synergistes","y":"C22:0","v":0.02},{"x":"g__Desulfovibrio","y":"C22:0","v":0.18},{"x":"g__UCG-004","y":"C22:0","v":0.3},{"x":"g__Lactobacillus","y":"C22:0","v":-0.07},{"x":"g__Prevotellaceae_UCG-001","y":"C22:0","v":-0.28},{"x":"g__Faecalicoccus","y":"C22:0","v":-0.15},
{"x":"g__Faecalibacterium","y":"C20:5","v":0.07},{"x":"g__Streptococcus","y":"C20:5","v":-0.47,"s":"*"},{"x":"g__Phascolarctobacterium","y":"C20:5","v":-0.2},{"x":"g__Synergistes","y":"C20:5","v":0},{"x":"g__Desulfovibrio","y":"C20:5","v":0.18},{"x":"g__UCG-004","y":"C20:5","v":0.28},{"x":"g__Lactobacillus","y":"C20:5","v":-0.04},{"x":"g__Prevotellaceae_UCG-001","y":"C20:5","v":-0.22},{"x":"g__Faecalicoccus","y":"C20:5","v":-0.1}],
"heatC":[
{"x":"g__UCG-004","y":"MDA","v":0.3},{"x":"g__Synergistes","y":"MDA","v":-0.22},{"x":"g__Desulfovibrio","y":"MDA","v":-0.36},{"x":"g__Streptococcus","y":"MDA","v":-0.18},{"x":"g__Phascolarctobacterium","y":"MDA","v":-0.26},{"x":"g__Lactobacillus","y":"MDA","v":0.1},{"x":"g__Faecalibacterium","y":"MDA","v":0.58,"s":"***"},{"x":"g__Prevotellaceae_UCG-001","y":"MDA","v":0.3,"s":"*"},{"x":"g__Faecalicoccus","y":"MDA","v":0.18},
{"x":"g__UCG-004","y":"SOD","v":0.3},{"x":"g__Synergistes","y":"SOD","v":-0.09},{"x":"g__Desulfovibrio","y":"SOD","v":-0.22},{"x":"g__Streptococcus","y":"SOD","v":-0.3},{"x":"g__Phascolarctobacterium","y":"SOD","v":-0.37},{"x":"g__Lactobacillus","y":"SOD","v":0.2},{"x":"g__Faecalibacterium","y":"SOD","v":0.47,"s":"**"},{"x":"g__Prevotellaceae_UCG-001","y":"SOD","v":0.3,"s":"*"},{"x":"g__Faecalicoccus","y":"SOD","v":0.24},
{"x":"g__UCG-004","y":"IgG","v":0.06},{"x":"g__Synergistes","y":"IgG","v":-0.01},{"x":"g__Desulfovibrio","y":"IgG","v":0.28},{"x":"g__Streptococcus","y":"IgG","v":-0.13},{"x":"g__Phascolarctobacterium","y":"IgG","v":-0.36},{"x":"g__Lactobacillus","y":"IgG","v":-0.42},{"x":"g__Faecalibacterium","y":"IgG","v":0.32},{"x":"g__Prevotellaceae_UCG-001","y":"IgG","v":0.14},{"x":"g__Faecalicoccus","y":"IgG","v":0.23},
{"x":"g__UCG-004","y":"T_AOC","v":-0.24},{"x":"g__Synergistes","y":"T_AOC","v":-0.3},{"x":"g__Desulfovibrio","y":"T_AOC","v":0.02},{"x":"g__Streptococcus","y":"T_AOC","v":0.1},{"x":"g__Phascolarctobacterium","y":"T_AOC","v":-0.06},{"x":"g__Lactobacillus","y":"T_AOC","v":-0.14},{"x":"g__Faecalibacterium","y":"T_AOC","v":0.25},{"x":"g__Prevotellaceae_UCG-001","y":"T_AOC","v":-0.09},{"x":"g__Faecalicoccus","y":"T_AOC","v":0.08},
{"x":"g__UCG-004","y":"IL_6","v":0.55,"s":"***"},{"x":"g__Synergistes","y":"IL_6","v":0.06},{"x":"g__Desulfovibrio","y":"IL_6","v":0.06},{"x":"g__Streptococcus","y":"IL_6","v":-0.57,"s":"**"},{"x":"g__Phascolarctobacterium","y":"IL_6","v":-0.25},{"x":"g__Lactobacillus","y":"IL_6","v":-0.22},{"x":"g__Faecalibacterium","y":"IL_6","v":0.25},{"x":"g__Prevotellaceae_UCG-001","y":"IL_6","v":-0.24},{"x":"g__Faecalicoccus","y":"IL_6","v":-0.32},
{"x":"g__UCG-004","y":"IgM","v":0.32,"s":"*"},{"x":"g__Synergistes","y":"IgM","v":0.18},{"x":"g__Desulfovibrio","y":"IgM","v":0.08},{"x":"g__Streptococcus","y":"IgM","v":-0.55,"s":"**"},{"x":"g__Phascolarctobacterium","y":"IgM","v":-0.07},{"x":"g__Lactobacillus","y":"IgM","v":-0.03},{"x":"g__Faecalibacterium","y":"IgM","v":-0.28},{"x":"g__Prevotellaceae_UCG-001","y":"IgM","v":-0.37},{"x":"g__Faecalicoccus","y":"IgM","v":-0.57,"s":"**"},
{"x":"g__UCG-004","y":"CAT","v":-0.36},{"x":"g__Synergistes","y":"CAT","v":-0.09},{"x":"g__Desulfovibrio","y":"CAT","v":0.09},{"x":"g__Streptococcus","y":"CAT","v":0.12},{"x":"g__Phascolarctobacterium","y":"CAT","v":0.14},{"x":"g__Lactobacillus","y":"CAT","v":-0.16},{"x":"g__Faecalibacterium","y":"CAT","v":-0.28},{"x":"g__Prevotellaceae_UCG-001","y":"CAT","v":-0.36},{"x":"g__Faecalicoccus","y":"CAT","v":-0.06},
{"x":"g__UCG-004","y":"GPX","v":-0.18},{"x":"g__Synergistes","y":"GPX","v":-0.14},{"x":"g__Desulfovibrio","y":"GPX","v":0.04},{"x":"g__Streptococcus","y":"GPX","v":-0.25},{"x":"g__Phascolarctobacterium","y":"GPX","v":-0.07},{"x":"g__Lactobacillus","y":"GPX","v":0},{"x":"g__Faecalibacterium","y":"GPX","v":-0.45,"s":"*"},{"x":"g__Prevotellaceae_UCG-001","y":"GPX","v":-0.28},{"x":"g__Faecalicoccus","y":"GPX","v":-0.2},
{"x":"g__UCG-004","y":"IgA","v":0.02},{"x":"g__Synergistes","y":"IgA","v":0.01},{"x":"g__Desulfovibrio","y":"IgA","v":0.5,"s":"**"},{"x":"g__Streptococcus","y":"IgA","v":-0.3},{"x":"g__Phascolarctobacterium","y":"IgA","v":-0.22},{"x":"g__Lactobacillus","y":"IgA","v":-0.2},{"x":"g__Faecalibacterium","y":"IgA","v":-0.16},{"x":"g__Prevotellaceae_UCG-001","y":"IgA","v":-0.43,"s":"*"},{"x":"g__Faecalicoccus","y":"IgA","v":-0.52,"s":"**"},
{"x":"g__UCG-004","y":"IFN_γ","v":0.2},{"x":"g__Synergistes","y":"IFN_γ","v":0.46,"s":"**"},{"x":"g__Desulfovibrio","y":"IFN_γ","v":0.45,"s":"**"},{"x":"g__Streptococcus","y":"IFN_γ","v":-0.2},{"x":"g__Phascolarctobacterium","y":"IFN_γ","v":0.18},{"x":"g__Lactobacillus","y":"IFN_γ","v":-0.55,"s":"**"},{"x":"g__Faecalibacterium","y":"IFN_γ","v":-0.37},{"x":"g__Prevotellaceae_UCG-001","y":"IFN_γ","v":-0.28},{"x":"g__Faecalicoccus","y":"IFN_γ","v":-0.27},
{"x":"g__UCG-004","y":"IL_1β","v":-0.05},{"x":"g__Synergistes","y":"IL_1β","v":0.2},{"x":"g__Desulfovibrio","y":"IL_1β","v":0.52,"s":"**"},{"x":"g__Streptococcus","y":"IL_1β","v":-0.07},{"x":"g__Phascolarctobacterium","y":"IL_1β","v":0.11},{"x":"g__Lactobacillus","y":"IL_1β","v":-0.36},{"x":"g__Faecalibacterium","y":"IL_1β","v":-0.42,"s":"*"},{"x":"g__Prevotellaceae_UCG-001","y":"IL_1β","v":-0.3},{"x":"g__Faecalicoccus","y":"IL_1β","v":-0.42,"s":"*"},
{"x":"g__UCG-004","y":"TNF_α","v":0.08},{"x":"g__Synergistes","y":"TNF_α","v":0.22},{"x":"g__Desulfovibrio","y":"TNF_α","v":0.56,"s":"***"},{"x":"g__Streptococcus","y":"TNF_α","v":-0.18},{"x":"g__Phascolarctobacterium","y":"TNF_α","v":0},{"x":"g__Lactobacillus","y":"TNF_α","v":-0.38},{"x":"g__Faecalibacterium","y":"TNF_α","v":-0.44,"s":"*"},{"x":"g__Prevotellaceae_UCG-001","y":"TNF_α","v":-0.43,"s":"*"},{"x":"g__Faecalicoccus","y":"TNF_α","v":-0.46,"s":"*"}]
},
"hconcat":[
{"resolve":{"scale":{"color":"independent"},"legend":{"color":"independent"}},"vconcat":[
{"width":1150,"height":562,
"encoding":{"color":{"field":"k","type":"nominal","legend":null,"scale":{"domain":["b","o","r","g","u","p","t","R1","R2","P1","T1","U1","U2","S1","O1"],"range":["#000000","#b6b71f","#e8211a","#1a7d3c","#174a9c","#93388d","#1fb5b5","#fbd8d6","#f6b3ae","#e9d9ec","#cdefee","#c9d6ea","#a6badf","#b6c4d6","#a9b79c"]}}},
"layer":[
{"encoding":{"x":{"datum":0,"type":"quantitative","scale":{"domain":[-477,673],"range":[0,1150],"nice":false,"zero":false},"axis":null},"y":{"datum":0,"type":"quantitative","scale":{"domain":[-237,325],"range":[562,0],"nice":false,"zero":false},"axis":null}},
"layer":[
{"data":{"name":"sec"},"mark":{"type":"arc"},"encoding":{"theta":{"field":"t","type":"quantitative","scale":{"domain":[0,360],"range":[0,6.2832]}},"theta2":{"field":"u"},"radius":{"field":"r","type":"quantitative","scale":{"type":"linear","domain":[0,250],"range":[0,250],"zero":true,"nice":false}},"radius2":{"field":"q"}}},
{"data":{"name":"spk"},"mark":{"type":"arc"},"encoding":{"theta":{"field":"s","type":"quantitative"},"theta2":{"field":"e"},"radius":{"datum":112,"type":"quantitative"},"radius2":{"datum":160},"color":{"value":"#111111"}}},
{"data":{"name":"spk"},"transform":[{"filter":"datum.w>0"}],"mark":{"type":"arc"},"encoding":{"theta":{"field":"s","type":"quantitative"},"theta2":{"field":"e"},"radius":{"datum":90,"type":"quantitative"},"radius2":{"datum":112},"color":{"value":"#111111"}}},
{"data":{"name":"spk"},"transform":[{"filter":"datum.t%24==0"}],"mark":{"type":"arc"},"encoding":{"theta":{"field":"s","type":"quantitative"},"theta2":{"field":"e"},"radius":{"datum":45,"type":"quantitative"},"radius2":{"datum":90},"color":{"value":"#111111"}}},
{"data":{"name":"rings"},"mark":{"type":"arc"},"encoding":{"theta":{"field":"t","type":"quantitative"},"theta2":{"field":"u"},"radius":{"field":"r","type":"quantitative"},"radius2":{"field":"q"}}},
{"data":{"name":"spk"},"mark":{"type":"arc","cornerRadius":3,"stroke":"#555533","strokeWidth":0.4},"encoding":{"theta":{"field":"s","type":"quantitative"},"theta2":{"field":"v"},"radius":{"datum":148,"type":"quantitative"},"radius2":{"datum":153},"color":{"value":"#b6b71f"}}},
{"data":{"name":"spk"},"mark":{"type":"arc","cornerRadius":4,"stroke":"#555533","strokeWidth":0.5},"encoding":{"theta":{"field":"t","type":"quantitative"},"theta2":{"field":"v"},"radius":{"datum":156.5,"type":"quantitative"},"radius2":{"datum":163.5},"color":{"value":"#b6b71f"}}},
{"data":{"name":"spk"},"mark":{"type":"arc","cornerRadius":3,"stroke":"#555533","strokeWidth":0.4},"encoding":{"theta":{"field":"s","type":"quantitative"},"theta2":{"field":"v"},"radius":{"datum":125,"type":"quantitative"},"radius2":{"datum":130},"color":{"value":"#b6b71f"}}},
{"data":{"name":"spk"},"transform":[{"filter":"datum.w>0"}],"mark":{"type":"arc","cornerRadius":4,"stroke":"#555533","strokeWidth":0.5},"encoding":{"theta":{"field":"t","type":"quantitative"},"theta2":{"field":"w"},"radius":{"datum":131,"type":"quantitative"},"radius2":{"datum":140},"color":{"value":"#b6b71f"}}},
{"data":{"name":"spk"},"transform":[{"filter":"datum.w>0"}],"mark":{"type":"arc","cornerRadius":4,"stroke":"#555533","strokeWidth":0.5},"encoding":{"theta":{"field":"t","type":"quantitative"},"theta2":{"field":"w"},"radius":{"datum":108,"type":"quantitative"},"radius2":{"datum":116},"color":{"value":"#b6b71f"}}},
{"data":{"name":"spk"},"transform":[{"filter":"datum.w>0"}],"mark":{"type":"arc","cornerRadius":3,"stroke":"#555533","strokeWidth":0.4},"encoding":{"theta":{"field":"s","type":"quantitative"},"theta2":{"field":"v"},"radius":{"datum":99,"type":"quantitative"},"radius2":{"datum":104},"color":{"value":"#b6b71f"}}},
{"data":{"name":"nodes"},"mark":{"type":"arc","cornerRadius":7,"stroke":"#222211","strokeWidth":0.8},"encoding":{"theta":{"field":"t","type":"quantitative"},"theta2":{"field":"u"},"radius":{"field":"r","type":"quantitative"},"radius2":{"field":"q"}}},
{"data":{"name":"letters"},"mark":{"type":"text","fontSize":9,"opacity":0.8},"encoding":{"theta":{"field":"t","type":"quantitative"},"radius":{"field":"r","type":"quantitative"},"text":{"field":"label"}}},
{"data":{"name":"phyla"},"mark":{"type":"text","fontSize":9.5,"angle":98,"opacity":0.75},"encoding":{"theta":{"field":"t","type":"quantitative"},"radius":{"field":"r","type":"quantitative"},"text":{"field":"label"}}}
]},
{"data":{"name":"cladlegend"},"mark":{"type":"point","filled":true,"opacity":1,"shape":"M-1,-0.4H1V0.4H-1Z","size":441,"stroke":"black","strokeWidth":1},"encoding":{"x":{"datum":253,"type":"quantitative"},"y":{"field":"y","type":"quantitative"}}},
{"data":{"name":"cladlegend"},"mark":{"type":"text","align":"left","fontSize":10,"font":"DejaVu Sans"},"encoding":{"x":{"datum":270,"type":"quantitative"},"y":{"field":"y","type":"quantitative"},"text":{"field":"label"},"color":{"value":"#222222"}}},
{"data":{"values":[{"x":0,"y":247,"label":"Cladogram"}]},"mark":{"type":"text","fontSize":24,"font":"DejaVu Sans"},"encoding":{"x":{"field":"x","type":"quantitative"},"y":{"field":"y","type":"quantitative"},"text":{"field":"label"},"color":{"value":"#222222"}}},
{"data":{"values":[{"x":-453,"y":288,"label":"A"}]},"mark":{"type":"text","fontSize":53,"fontWeight":"bold"},"encoding":{"x":{"field":"x","type":"quantitative"},"y":{"field":"y","type":"quantitative"},"text":{"field":"label"},"color":{"value":"#111111"}}}
]},
{"width":1150,"height":670,"data":{"name":"bars"},"mark":{"type":"bar","stroke":"black","strokeWidth":2},
"encoding":{
"y":{"field":"n","type":"nominal","sort":null,"scale":{"range":[12,667],"paddingInner":0.13,"paddingOuter":0.06},"axis":{"title":null,"offset":-204,"domain":false,"ticks":false,"labelPadding":19,"labelFontSize":10.4,"labelColor":"#222222"}},
"x":{"field":"v","type":"quantitative","scale":{"domain":[0,5],"range":[204,1010],"nice":false},"axis":{"title":"LDA SCORE (log 10)","titleFontSize":15,"titleFontWeight":"normal","titleX":622,"titleY":44,"values":[0,1,2,3,4],"domain":false,"grid":true,"gridColor":"black","gridDash":[2,3],"gridWidth":1,"tickColor":"#222222","tickDash":[3,2],"tickSize":12,"labelFontSize":15,"labelPadding":6,"labelFlush":false,"zindex":1}},
"color":{"field":"g","type":"nominal","scale":{"domain":["C","4% SI (Full)","8% SI (Full)","4% SI (Phased)","8% SI (Phased)"],"range":["#e8211a","#1a7d3c","#174a9c","#93388d","#1fb5b5"]},"legend":{"orient":"none","legendX":68,"legendY":-268,"title":"group","titleFontSize":24,"titleFontWeight":"normal","titlePadding":12,"labelFontSize":23,"labelColor":"#111111","titleColor":"#111111","symbolType":"M-1.2,-0.45H1.2V0.45H-1.2Z","symbolSize":1024,"symbolStrokeColor":"black","symbolStrokeWidth":1.5,"symbolOpacity":1,"rowPadding":3.4,"labelOffset":20,"labelLimit":300}}
}}
],"spacing":0,"bounds":"flush"},
{"resolve":{"scale":{"color":"independent"},"legend":{"color":"independent"}},"vconcat":[
{"width":752,"height":700,"resolve":{"scale":{"x":"independent","y":"independent"}},
"layer":[
{"data":{"name":"heatB"},"encoding":{
"x":{"field":"x","type":"nominal","scale":{"domain":["g__Faecalibacterium","g__Streptococcus","g__Phascolarctobacterium","g__Synergistes","g__Desulfovibrio","g__UCG-004","g__Lactobacillus","g__Prevotellaceae_UCG-001","g__Faecalicoccus"],"range":[137,538],"paddingInner":0,"paddingOuter":0},"axis":{"title":null,"orient":"bottom","offset":-212,"domain":false,"ticks":false,"labelAngle":-60,"labelAlign":"right","labelBaseline":"middle","labelFontSize":16,"labelFontWeight":"bold","labelPadding":10,"labelColor":"#111111"}},
"y":{"field":"y","type":"nominal","scale":{"domain":["C15:1","C16:1","C14:1","C18:1","C18:0","C16:0","C14:0","C18:2","Omega6","C22:6","C20:1","C18:3γ","C15:0","C17:0","C18:3α","C20:3","C20:2","C23:0","Omega3","C20:4","C24:0","C17:1","C22:2","C20:0","C21:0","C22:0","C20:5"],"range":[170,488],"paddingInner":0,"paddingOuter":0},"axis":{"title":null,"orient":"right","offset":-214,"domain":false,"ticks":false,"labelFontSize":10.5,"labelFontWeight":"bold","labelPadding":10,"labelColor":"#111111"}}},
"layer":[
{"mark":{"type":"rect"},"encoding":{"color":{"field":"v","type":"quantitative","scale":{"domain":[-0.605,0,0.605],"range":["#2574b8","#ffffff","#d94f38"],"interpolate":"rgb"},"legend":{"orient":"none","legendX":652,"legendY":68,"type":"gradient","title":"R²","titleFontSize":20,"titleFontWeight":"bold","titlePadding":12,"gradientLength":177,"gradientThickness":44,"values":[-0.6,-0.4,-0.2,0,0.2,0.4,0.6],"labelFontSize":24,"labelFontWeight":"bold","labelBaseline":"middle","labelExpr":"''+datum.value","labelOverlap":false,"labelOffset":8,"labelColor":"#111111","titleColor":"#111111"}}}},
{"transform":[{"filter":"datum.s"}],"mark":{"type":"text","fontWeight":"bold","fontSize":21,"dy":5,"color":"#111111"},"encoding":{"text":{"field":"s"}}}
]},
{"encoding":{"x":{"field":"h","type":"quantitative","scale":{"domain":[0,9],"range":[137,538],"nice":false,"zero":false},"axis":null},"y":{"field":"h","type":"quantitative","scale":{"domain":[0,27],"range":[170,488],"nice":false,"zero":false},"axis":null}},
"layer":[
{"data":{"name":"bL"},"mark":{"type":"rule","color":"black","strokeWidth":1.8},"encoding":{"x":{"field":"h","type":"quantitative"},"y":{"field":"a","type":"quantitative"},"y2":{"field":"b"}}},
{"data":{"name":"bL"},"mark":{"type":"rule","color":"black","strokeWidth":1.8},"encoding":{"x":{"field":"h","type":"quantitative"},"x2":{"field":"c"},"y":{"field":"a","type":"quantitative"}}},
{"data":{"name":"bL"},"mark":{"type":"rule","color":"black","strokeWidth":1.8},"encoding":{"x":{"field":"h","type":"quantitative"},"x2":{"field":"d"},"y":{"field":"b","type":"quantitative"}}},
{"data":{"name":"bT"},"mark":{"type":"rule","color":"black","strokeWidth":1.8},"encoding":{"y":{"field":"h","type":"quantitative"},"x":{"field":"a","type":"quantitative"},"x2":{"field":"b"}}},
{"data":{"name":"bT"},"mark":{"type":"rule","color":"black","strokeWidth":1.8},"encoding":{"y":{"field":"h","type":"quantitative"},"y2":{"field":"c"},"x":{"field":"a","type":"quantitative"}}},
{"data":{"name":"bT"},"mark":{"type":"rule","color":"black","strokeWidth":1.8},"encoding":{"y":{"field":"h","type":"quantitative"},"y2":{"field":"d"},"x":{"field":"b","type":"quantitative"}}},
{"data":{"values":[{"x":6.26,"y":-9.76,"label":"Correlation Heatmap"}]},"mark":{"type":"text","fontSize":30,"fontWeight":"bold","color":"#111111"},"encoding":{"x":{"field":"x","type":"quantitative"},"y":{"field":"y","type":"quantitative"},"text":{"field":"label"}}},
{"data":{"values":[{"x":-2.54,"y":-11.3,"label":"B"}]},"mark":{"type":"text","fontSize":53,"fontWeight":"bold","color":"#111111"},"encoding":{"x":{"field":"x","type":"quantitative"},"y":{"field":"y","type":"quantitative"},"text":{"field":"label"}}}
]}
]},
{"width":752,"height":691,"resolve":{"scale":{"x":"independent","y":"independent"}},
"layer":[
{"data":{"name":"heatC"},"encoding":{
"x":{"field":"x","type":"nominal","scale":{"domain":["g__UCG-004","g__Synergistes","g__Desulfovibrio","g__Streptococcus","g__Phascolarctobacterium","g__Lactobacillus","g__Faecalibacterium","g__Prevotellaceae_UCG-001","g__Faecalicoccus"],"range":[146,560],"paddingInner":0,"paddingOuter":0},"axis":{"title":null,"orient":"bottom","offset":-229,"domain":false,"ticks":false,"labelAngle":-57,"labelAlign":"right","labelBaseline":"middle","labelFontSize":18,"labelFontWeight":"bold","labelPadding":7,"labelColor":"#111111"}},
"y":{"field":"y","type":"nominal","scale":{"domain":["MDA","SOD","IgG","T_AOC","IL_6","IgM","CAT","GPX","IgA","IFN_γ","IL_1β","TNF_α"],"range":[140,462],"paddingInner":0,"paddingOuter":0},"axis":{"title":null,"orient":"right","offset":-192,"domain":false,"ticks":false,"labelFontSize":17,"labelFontWeight":"bold","labelPadding":10,"labelColor":"#111111"}}},
"layer":[
{"mark":{"type":"rect"},"encoding":{"color":{"field":"v","type":"quantitative","scale":{"domain":[-0.605,0,0.605],"range":["#2574b8","#ffffff","#d94f38"],"interpolate":"rgb"},"legend":{"orient":"none","legendX":656,"legendY":62,"type":"gradient","title":"R²","titleFontSize":20,"titleFontWeight":"bold","titlePadding":12,"gradientLength":175,"gradientThickness":45,"values":[-0.6,-0.4,-0.2,0,0.2,0.4,0.6],"labelFontSize":24,"labelFontWeight":"bold","labelBaseline":"middle","labelExpr":"''+datum.value","labelOverlap":false,"labelOffset":8,"labelColor":"#111111","titleColor":"#111111"}}}},
{"transform":[{"filter":"datum.s"}],"mark":{"type":"text","fontWeight":"bold","fontSize":22,"dy":6,"color":"#111111"},"encoding":{"text":{"field":"s"}}}
]},
{"encoding":{"x":{"field":"h","type":"quantitative","scale":{"domain":[0,9],"range":[146,560],"nice":false,"zero":false},"axis":null},"y":{"field":"h","type":"quantitative","scale":{"domain":[0,12],"range":[140,462],"nice":false,"zero":false},"axis":null}},
"layer":[
{"data":{"name":"cL"},"mark":{"type":"rule","color":"black","strokeWidth":1.8},"encoding":{"x":{"field":"h","type":"quantitative"},"y":{"field":"a","type":"quantitative"},"y2":{"field":"b"}}},
{"data":{"name":"cL"},"mark":{"type":"rule","color":"black","strokeWidth":1.8},"encoding":{"x":{"field":"h","type":"quantitative"},"x2":{"field":"c"},"y":{"field":"a","type":"quantitative"}}},
{"data":{"name":"cL"},"mark":{"type":"rule","color":"black","strokeWidth":1.8},"encoding":{"x":{"field":"h","type":"quantitative"},"x2":{"field":"d"},"y":{"field":"b","type":"quantitative"}}},
{"data":{"name":"cT"},"mark":{"type":"rule","color":"black","strokeWidth":1.8},"encoding":{"y":{"field":"h","type":"quantitative"},"x":{"field":"a","type":"quantitative"},"x2":{"field":"b"}}},
{"data":{"name":"cT"},"mark":{"type":"rule","color":"black","strokeWidth":1.8},"encoding":{"y":{"field":"h","type":"quantitative"},"y2":{"field":"c"},"x":{"field":"a","type":"quantitative"}}},
{"data":{"name":"cT"},"mark":{"type":"rule","color":"black","strokeWidth":1.8},"encoding":{"y":{"field":"h","type":"quantitative"},"y2":{"field":"d"},"x":{"field":"b","type":"quantitative"}}},
{"data":{"values":[{"x":6.02,"y":-4.32,"label":"Correlation Heatmap"}]},"mark":{"type":"text","fontSize":30,"fontWeight":"bold","color":"#111111"},"encoding":{"x":{"field":"x","type":"quantitative"},"y":{"field":"y","type":"quantitative"},"text":{"field":"label"}}},
{"data":{"values":[{"x":-2.54,"y":-4.5,"label":"C"}]},"mark":{"type":"text","fontSize":53,"fontWeight":"bold","color":"#111111"},"encoding":{"x":{"field":"x","type":"quantitative"},"y":{"field":"y","type":"quantitative"},"text":{"field":"label"}}}
]}
]}
],"spacing":0,"bounds":"flush"}
]}
